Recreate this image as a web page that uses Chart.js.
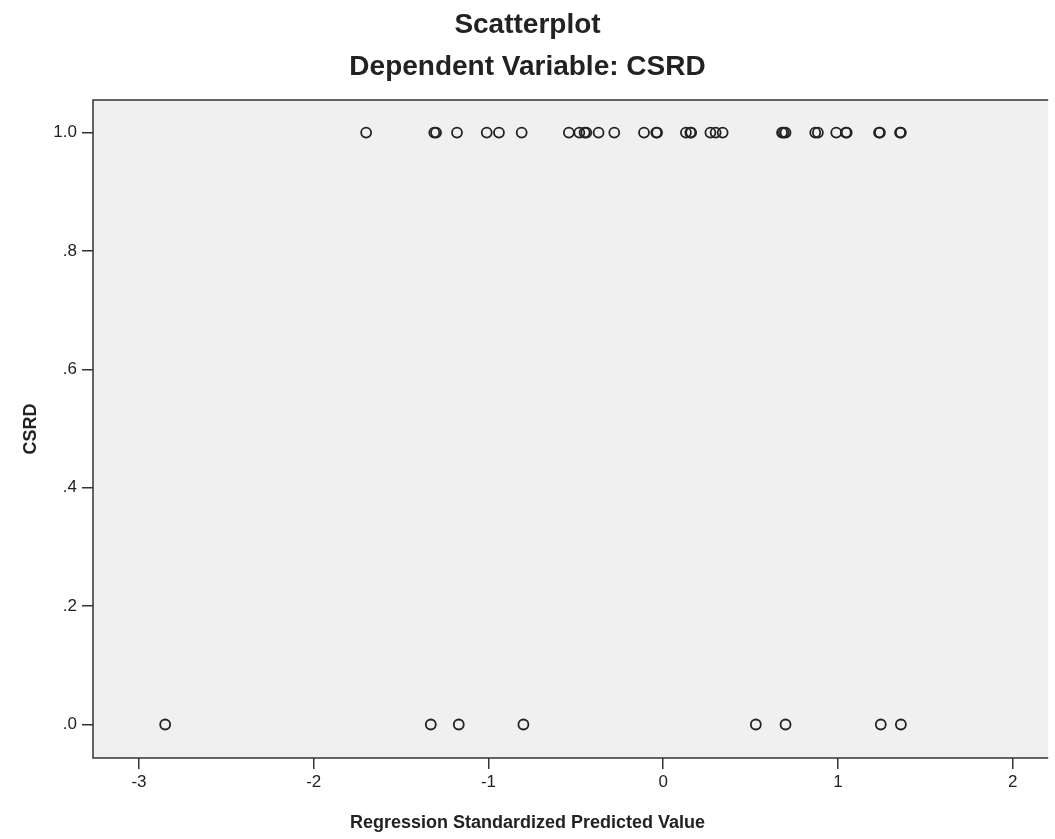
<!DOCTYPE html>
<html>
<head>
<meta charset="utf-8">
<script src="https://cdn.jsdelivr.net/npm/chart.js@4"></script>
<style>
  html, body { margin: 0; padding: 0; background: #fff; }
  #wrap { width: 1055px; height: 839px; position: relative; }
</style>
</head>
<body>
<div id="wrap"><canvas id="scatter"></canvas></div>
<script>
// --- Datos ---
// valores predichos estandarizados con CSRD = 1
const predictedCsrd1 = [
  -1.70, -1.31, -1.30, -1.18, -1.01, -0.94, -0.81,
  -0.54, -0.48, -0.45, -0.44, -0.37, -0.28,
  -0.11, -0.04, -0.035, 0.13, 0.155, 0.16, 0.27, 0.30, 0.34,
  0.68, 0.69, 0.70, 0.87, 0.885, 0.99, 1.045, 1.05,
  1.235, 1.24, 1.355, 1.36
];
// valores predichos estandarizados con CSRD = 0
const predictedCsrd0 = [-2.85, -1.33, -1.17, -0.80, 0.53, 0.70, 1.245, 1.36];

const xTicks = [-3, -2, -1, 0, 1, 2];
const yTicks = [0, 0.2, 0.4, 0.6, 0.8, 1.0];
const yTickLabels = ['.0', '.2', '.4', '.6', '.8', '1.0'];

const font = "'Liberation Sans', Arial, sans-serif";
const ink = '#222';

const points = [
  ...predictedCsrd1.map(x => ({ x: x, y: 1 })),
  ...predictedCsrd0.map(x => ({ x: x, y: 0 }))
];

// fondo gris y marco del área del gráfico
const plotFrame = {
  id: 'plotFrame',
  beforeDatasetsDraw(chart) {
    const { ctx, chartArea: a } = chart;
    ctx.save();
    ctx.fillStyle = '#f0f0f0';
    ctx.fillRect(a.left, a.top, a.right - a.left, a.bottom - a.top);
    ctx.restore();
  },
  afterDraw(chart) {
    const { ctx, chartArea: a } = chart;
    ctx.save();
    ctx.strokeStyle = '#333';
    ctx.lineWidth = 1.5;
    ctx.beginPath();
    ctx.moveTo(a.right, a.top);
    ctx.lineTo(a.left, a.top);
    ctx.lineTo(a.left, a.bottom);
    ctx.lineTo(a.right, a.bottom);
    ctx.stroke();
    ctx.restore();
  }
};

new Chart(document.getElementById('scatter'), {
  type: 'scatter',
  data: {
    datasets: [{
      label: 'CSRD',
      data: points,
      pointStyle: 'circle',
      pointRadius: 5,
      pointHoverRadius: 5,
      backgroundColor: 'rgba(0,0,0,0)',
      borderColor: ink,
      borderWidth: 1.8
    }]
  },
  plugins: [plotFrame],
  options: {
    responsive: true,
    maintainAspectRatio: false,
    animation: false,
    layout: { padding: 0 },
    plugins: {
      legend: { display: false },
      tooltip: { enabled: false },
      title: {
        display: true,
        text: ['Scatterplot', 'Dependent Variable: CSRD'],
        color: ink,
        font: { family: font, size: 28, weight: 'bold', lineHeight: 1.5 },
        padding: { top: 4, bottom: 12 }
      },
      // título del eje X, centrado en la figura como en el original
      subtitle: {
        display: true,
        position: 'bottom',
        text: 'Regression Standardized Predicted Value',
        color: ink,
        font: { family: font, size: 18, weight: 'bold', lineHeight: 1.2 },
        padding: { top: 0, bottom: 5 }
      }
    },
    scales: {
      x: {
        type: 'linear',
        min: -3.263,
        max: 2.203,
        afterBuildTicks: s => { s.ticks = xTicks.map(v => ({ value: v })); },
        afterFit: s => { s.height = 54.4; },
        ticks: { color: ink, font: { family: font, size: 17 }, padding: 3, maxRotation: 0 },
        grid: { drawOnChartArea: false, drawTicks: true, tickLength: 11, color: '#333', lineWidth: 1.5 },
        border: { display: false }
      },
      y: {
        type: 'linear',
        min: -0.0566,
        max: 1.055,
        afterBuildTicks: s => { s.ticks = yTicks.map(v => ({ value: v })); },
        afterFit: s => { s.width = 93; },
        ticks: {
          color: ink,
          font: { family: font, size: 17 },
          padding: 5,
          callback: (v) => yTickLabels[yTicks.findIndex(t => Math.abs(t - v) < 1e-6)]
        },
        grid: { drawOnChartArea: false, drawTicks: true, tickLength: 11, color: '#333', lineWidth: 1.5 },
        border: { display: false },
        title: {
          display: true,
          text: 'CSRD',
          color: ink,
          font: { family: font, size: 18, weight: 'bold' },
          padding: { top: 20, bottom: 0 }
        }
      }
    }
  }
});
</script>
</body>
</html>
